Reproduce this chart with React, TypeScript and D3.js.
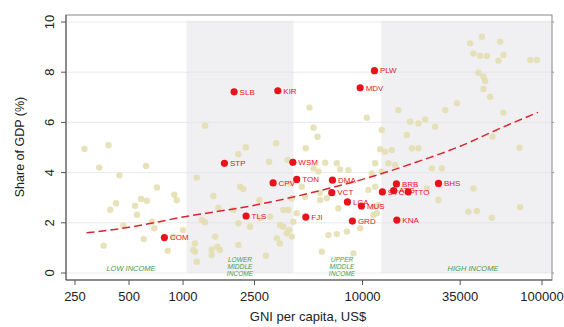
import React from 'react';
import * as d3 from 'd3';

const W = 564;
const H = 327;

// Axis ticks
const xTicks = [250, 500, 1000, 2500, 10000, 35000, 100000];
const yTicks = [0, 2, 4, 6, 8, 10];

// World Bank income thresholds (GNI per capita, US$)
const bandRanges: [number, number][] = [
  [1045, 4125],
  [12746, 114000],
];

const incomeLabels = [
  { lines: ['LOW INCOME'], px: 131 },
  { lines: ['LOWER', 'MIDDLE', 'INCOME'], px: 240 },
  { lines: ['UPPER', 'MIDDLE', 'INCOME'], px: 342 },
  { lines: ['HIGH INCOME'], px: 473 },
];

// Background countries
const bgGni = [
  282, 384, 341, 622, 442, 716, 894, 922, 423, 393, 583, 628, 540, 554, 672, 692, 465, 361, 604, 822, 1000, 883,
  1327, 3300, 2236, 2034, 3016, 1192, 2078, 2168, 1476, 2663, 1573, 1907, 1271, 1327, 2034, 2362, 2687, 3055, 1508,
  1166, 1553, 1445, 1607, 2034, 1166, 1445, 1192, 2900, 3330, 3470, 3620, 3785, 3470, 3620, 1141,
  5060, 10570, 5330, 5610, 12800, 4830, 12530, 6190, 7190, 7500, 11750, 3830, 5330, 5680, 8350, 11270, 12800, 3950,
  4590, 5800, 10790, 11750, 4040, 4790, 5800, 6320, 7340, 11500, 3860, 4300, 4120, 11500, 6460, 7190, 8180, 9700,
  5930, 8900, 3900, 4040,
  15850, 28900, 33600, 18420, 20500, 22340, 25400, 17660, 13360, 14560, 18840, 20500, 13940, 15200, 24330, 27670,
  26490, 22810, 12270, 12020, 46240, 39810, 58480, 41500, 45230, 49300, 60990, 57240, 85900, 93700, 44260, 47200,
  48230, 47200, 51420, 60990, 52970, 74960, 41500, 75560, 38920, 43370, 52570,
];
const bgShare = [
  4.94, 5.09, 4.2, 4.26, 3.89, 3.41, 3.12, 2.9, 2.78, 2.52, 2.95, 2.88, 2.68, 2.32, 2.04, 1.78, 1.88, 1.09, 1.35, 0.89, 1.71, 1.45,
  5.87, 5.17, 5.01, 4.73, 4.43, 3.8, 3.44, 3.35, 3.07, 2.91, 2.6, 2.51, 2.11, 2.02, 1.98, 1.84, 2.18, 2.24, 1.45,
  1.18, 1.05, 0.94, 0.92, 1.12, 0.85, 0.72, 0.45, 0.69, 1.38, 1.18, 1.84, 1.58, 1.91, 2.51, 0.92,
  6.59, 6.19, 5.79, 5.43, 5.7, 4.97, 4.93, 4.39, 4.37, 4.13, 4.37, 4.5, 4.17, 4.04, 4.1, 3.97, 4.04, 3.57,
  3.44, 3.2, 3.31, 3.44, 2.98, 3.04, 2.91, 2.98, 2.58, 2.64, 2.51, 2.38, 2.04, 2.31, 1.51, 1.55, 1.65, 1.78,
  0.85, 0.78, 1.71, 1.45,
  6.49, 6.49, 6.76, 6.03, 5.96, 6.12, 5.83, 5.5, 4.83, 4.9, 4.97, 4.97, 4.37, 4.3, 4.17, 4.17,
  2.91, 3.37, 2.71, 2.38, 9.41, 9.15, 9.22, 8.75, 8.66, 8.65, 8.69, 8.46, 8.49, 8.49, 7.98, 7.82,
  7.65, 7.33, 7.02, 6.39, 5.43, 4.99, 3.37, 2.62, 2.44, 2.47, 2.2,
];

// Highlighted (small island) countries
const hlCodes = ['COM', 'STP', 'SLB', 'TLS', 'CPV', 'KIR', 'WSM', 'TON', 'FJI', 'VCT', 'DMA', 'LCA', 'GRD', 'MDV', 'MUS', 'PLW', 'SYC', 'ATG', 'BRB', 'KNA', 'TTO', 'BHS'];
const hlGni = [787, 1700, 1925, 2245, 3175, 3373, 4090, 4300, 4830, 6740, 6800, 8240, 8780, 9700, 9860, 11650, 12900, 14900, 15450, 15530, 17970, 26500];
const hlShare = [1.41, 4.37, 7.22, 2.27, 3.59, 7.26, 4.41, 3.73, 2.23, 3.2, 3.7, 2.83, 2.07, 7.38, 2.67, 8.06, 3.23, 3.28, 3.55, 2.11, 3.23, 3.57];

// Fitted curve
const fitGni = [290, 500, 1000, 2500, 5000, 10000, 20000, 35000, 60000, 95000];
const fitShare = [1.6, 1.82, 2.23, 2.7, 3.17, 3.73, 4.42, 5.05, 5.8, 6.4];

const FONT = "'Liberation Sans', Arial, Helvetica, sans-serif";

export default function App() {
  const left = 66, right = 552, top = 15, bottom = 280;
  const x = d3.scaleLog().domain([250, 100000]).range([75, 542]);
  const y = d3.scaleLinear().domain([0, 10]).range([273, 22]);
  const fmt = (v: number) => String(v);

  const line = d3
    .line<number>()
    .x((_, i) => x(fitGni[i]))
    .y((d) => y(d))
    .curve(d3.curveMonotoneX);

  return (
    <svg width={W} height={H} style={{ position: 'absolute', left: 0, top: 0, background: '#fff' }} fontFamily={FONT}>
      {/* income bands */}
      {bandRanges.map(([a, b], i) => (
        <rect key={i} x={x(a)} y={y(10.05)} width={Math.min(x(b), right) - x(a)} height={y(0) - y(10.05)} fill="#f0f0f3" />
      ))}
      {/* gridlines */}
      {yTicks.map((t) => (
        <line key={t} x1={left} x2={right} y1={y(t)} y2={y(t)} stroke="#e4e4e4" strokeWidth={0.8} />
      ))}
      {/* income labels */}
      {incomeLabels.map((l, i) => (
        <text key={i} x={l.px} textAnchor="middle" fontSize={l.lines.length === 1 ? 7.5 : 6.6} fontStyle="italic" fill="#4f9a45">
          {l.lines.map((s, j) => (
            <tspan key={j} x={l.px} y={l.lines.length === 1 ? 271 : 261.5 + j * 7.2}>
              {s}
            </tspan>
          ))}
        </text>
      ))}
      {/* background points */}
      {bgGni.map((g, i) => (
        <circle key={i} cx={x(g)} cy={y(bgShare[i])} r={3.2} fill="#e4ddae" fillOpacity={0.85} />
      ))}
      {/* fitted curve */}
      <path d={line(fitShare) || ''} fill="none" stroke="#d8262e" strokeWidth={1.5} strokeDasharray="8,4" />
      {/* highlighted points */}
      {hlCodes.map((c, i) => (
        <g key={c}>
          <circle cx={x(hlGni[i])} cy={y(hlShare[i])} r={3.6} fill="#e8121c" />
          <text x={x(hlGni[i]) + 5.5} y={y(hlShare[i]) + 2.8} fontSize={8} fill="#e8121c">
            {c}
          </text>
        </g>
      ))}
      {/* frame */}
      <rect x={left} y={top} width={right - left} height={bottom - top} fill="none" stroke="#888" strokeWidth={1} />
      <line x1={left} x2={left} y1={top} y2={bottom} stroke="#555" />
      <line x1={left} x2={right} y1={bottom} y2={bottom} stroke="#555" />
      {/* x axis */}
      {xTicks.map((t) => (
        <g key={t}>
          <line x1={x(t)} x2={x(t)} y1={bottom} y2={bottom + 5} stroke="#555" />
          <text x={x(t)} y={300.5} textAnchor="middle" fontSize={13} fill="#222">
            {fmt(t)}
          </text>
        </g>
      ))}
      {/* y axis */}
      {yTicks.map((t) => (
        <g key={t}>
          <line x1={left - 5} x2={left} y1={y(t)} y2={y(t)} stroke="#555" />
          <line x1={right} x2={right + 2} y1={y(t)} y2={y(t)} stroke="#999" />
          <text transform={`translate(54,${y(t)}) rotate(-90)`} textAnchor="middle" fontSize={13} fill="#222">
            {fmt(t)}
          </text>
        </g>
      ))}
      <text transform={`translate(24,147) rotate(-90)`} textAnchor="middle" fontSize={12.5} fill="#222">
        Share of GDP (%)
      </text>
      <text x={308} y={321} textAnchor="middle" fontSize={13} fill="#222">
        GNI per capita, US$
      </text>
    </svg>
  );
}
